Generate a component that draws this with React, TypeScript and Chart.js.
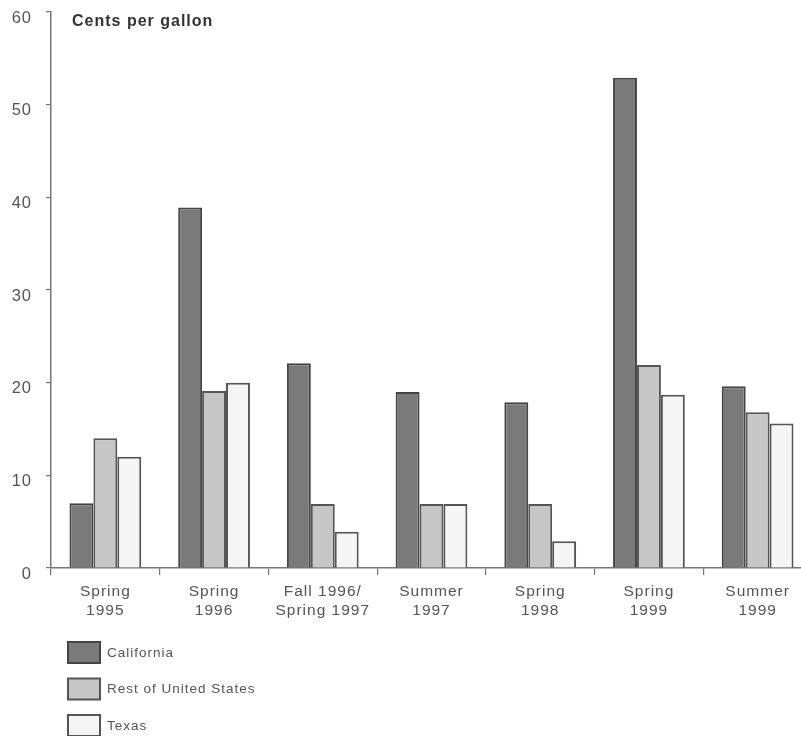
import { useEffect, useRef } from "react";
import { Chart, registerables } from "chart.js";

Chart.register(...registerables);

const categories: string[][] = [
  ["Spring", "1995"],
  ["Spring", "1996"],
  ["Fall 1996/", "Spring 1997"],
  ["Summer", "1997"],
  ["Spring", "1998"],
  ["Spring", "1999"],
  ["Summer", "1999"],
];
const california = [7, 38.9, 22.1, 19, 17.9, 52.9, 19.6];
const restOfUS = [14, 19.1, 6.9, 6.9, 6.9, 21.9, 16.8];
const texas = [12, 20, 3.9, 6.9, 2.9, 18.7, 15.6];
const seriesNames = ["California", "Rest of United States", "Texas"];
const yTitle = "Cents per gallon";
const yMin = 0;
const yMax = 60;
const yStep = 10;

const FONT = "'Liberation Sans', Arial, Helvetica, sans-serif";

export default function App() {
  const ref = useRef<HTMLCanvasElement | null>(null);

  useEffect(() => {
    if (!ref.current) return;

    const spacingPlugin = {
      id: "spacing",
      beforeLayout(chart: any) {
        chart.ctx.letterSpacing = "1px";
      },
      beforeDraw(chart: any) {
        chart.ctx.letterSpacing = "1px";
      },
    };

    const titlePlugin = {
      id: "yTitle",
      afterDraw(chart: any) {
        const ctx = chart.ctx;
        ctx.save();
        ctx.letterSpacing = "1px";
        ctx.font = `bold 16px ${FONT}`;
        ctx.fillStyle = "#333";
        ctx.textAlign = "left";
        ctx.textBaseline = "middle";
        ctx.fillText(yTitle, chart.chartArea.left + 21, 22);
        ctx.restore();
      },
    };

    const legendPlugin = {
      id: "vLegend",
      afterDraw(chart: any) {
        const ctx = chart.ctx;
        ctx.save();
        ctx.letterSpacing = "1px";
        chart.data.datasets.forEach((ds: any, i: number) => {
          const x = 68;
          const y = 642 + i * 36.5;
          ctx.fillStyle = ds.backgroundColor;
          ctx.fillRect(x, y, 32, 21);
          ctx.strokeStyle = ds.borderColor;
          ctx.lineWidth = 2;
          ctx.strokeRect(x, y, 32, 21);
          ctx.font = `13.5px ${FONT}`;
          ctx.fillStyle = "#555";
          ctx.textAlign = "left";
          ctx.textBaseline = "middle";
          ctx.fillText(ds.label, 107, y + 11);
        });
        ctx.restore();
      },
    };

    const chart = new Chart(ref.current, {
      type: "bar",
      data: {
        labels: categories,
        datasets: [
          {
            label: seriesNames[0],
            data: california,
            backgroundColor: "#7a7a7a",
            borderColor: "#444",
            borderWidth: 2,
          },
          {
            label: seriesNames[1],
            data: restOfUS,
            backgroundColor: "#c6c6c6",
            borderColor: "#555",
            borderWidth: 2,
          },
          {
            label: seriesNames[2],
            data: texas,
            backgroundColor: "#f5f5f5",
            borderColor: "#555",
            borderWidth: 2,
          },
        ],
      },
      options: {
        responsive: false,
        animation: false,
        layout: { padding: { top: 12, left: 0, right: 0, bottom: 0 } },
        plugins: {
          legend: { display: false },
          tooltip: { enabled: false },
          title: { display: false },
        },
        datasets: {
          bar: { categoryPercentage: 0.66, barPercentage: 1 },
        },
        scales: {
          x: {
            type: "category",
            offset: true,
            grid: {
              offset: true,
              drawOnChartArea: false,
              drawTicks: true,
              tickLength: 7,
              color: "#777",
              lineWidth: 1.2,
            },
            border: { color: "#777", width: 1.5 },
            ticks: {
              color: "#555",
              font: { family: FONT, size: 15.5, lineHeight: 1.25 },
              padding: 7,
              maxRotation: 0,
              autoSkip: false,
            },
            afterFit: (scale: any) => {
              scale.height = 168;
              scale.paddingLeft = 0;
              scale.paddingRight = 0;
            },
          },
          y: {
            min: yMin,
            max: yMax,
            grid: {
              drawOnChartArea: false,
              drawTicks: true,
              tickLength: 5,
              color: "#777",
              lineWidth: 1.2,
            },
            border: { color: "#777", width: 1.5 },
            ticks: {
              stepSize: yStep,
              color: "#555",
              font: { family: FONT, size: 16.5 },
              padding: 14,
              labelOffset: 6,
            },
            afterFit: (scale: any) => {
              scale.width = 51;
              scale.paddingTop = 0;
              scale.paddingBottom = 0;
            },
          },
        },
      },
      plugins: [spacingPlugin, titlePlugin, legendPlugin],
    });

    return () => chart.destroy();
  }, []);

  return (
    <div
      style={{
        position: "absolute",
        left: 0,
        top: 0,
        width: 801,
        height: 736,
        overflow: "hidden",
        background: "#fff",
      }}
    >
      <canvas ref={ref} width={812} height={736} style={{ display: "block" }} />
    </div>
  );
}
